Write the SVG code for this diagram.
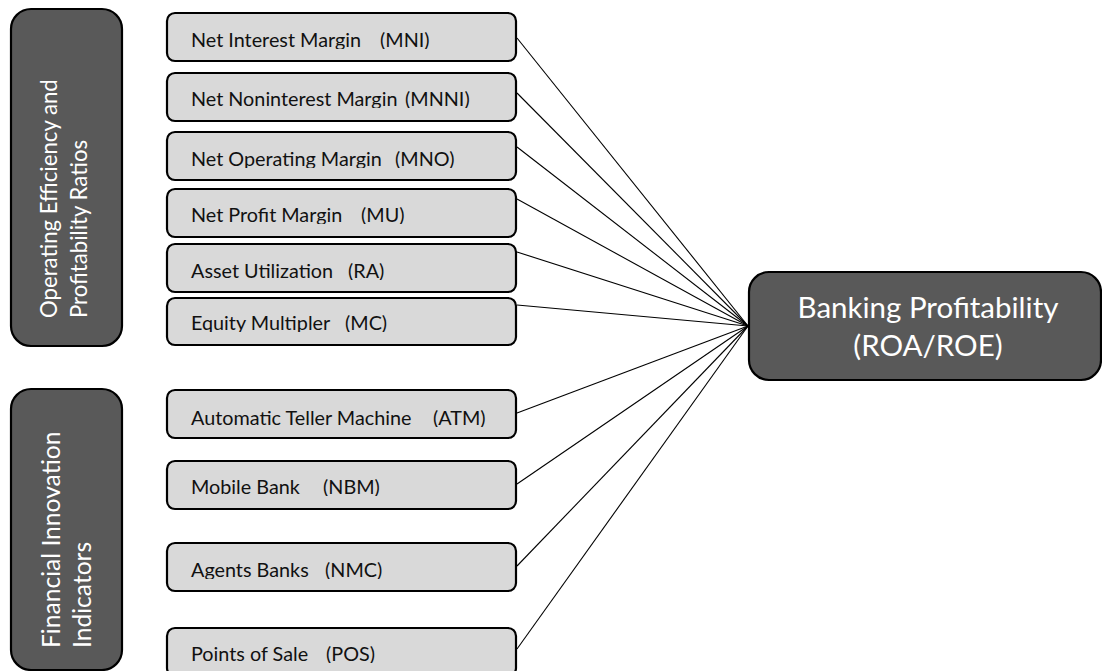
<svg xmlns="http://www.w3.org/2000/svg" width="1102" height="671" viewBox="0 0 1102 671">
  <style>
    .item rect { fill: #d9d9d9; stroke: #000; stroke-width: 2.2; }
    .item text { font-family: Lato, "Liberation Sans", sans-serif; font-size: 19.8px; fill: #111; white-space: pre; }
    .group rect { fill: #595959; stroke: #000; stroke-width: 2.2; }
    .group text { font-family: Lato, "Liberation Sans", sans-serif; fill: #fff; }
    .target rect { fill: #595959; stroke: #000; stroke-width: 2.2; }
    .target text { font-family: Lato, "Liberation Sans", sans-serif; font-size: 29.5px; fill: #fff; text-anchor: middle; }
    .links line { stroke: #000; stroke-width: 1.1; }
  </style>
  <defs>
    <!-- labels in the item boxes are cut just under their baseline -->
    <clipPath id="c1"><rect x="160" y="13" width="360" height="36"/></clipPath>
    <clipPath id="c2"><rect x="160" y="73" width="360" height="35"/></clipPath>
    <clipPath id="c3"><rect x="160" y="132" width="360" height="36"/></clipPath>
    <clipPath id="c4"><rect x="160" y="189" width="360" height="35"/></clipPath>
    <clipPath id="c5"><rect x="160" y="244" width="360" height="36"/></clipPath>
    <clipPath id="c6"><rect x="160" y="298" width="360" height="34"/></clipPath>
    <clipPath id="c7"><rect x="160" y="390" width="360" height="37"/></clipPath>
    <clipPath id="c8"><rect x="160" y="461" width="360" height="35"/></clipPath>
    <clipPath id="c9"><rect x="160" y="543" width="360" height="36"/></clipPath>
    <clipPath id="c10"><rect x="160" y="628" width="360" height="35"/></clipPath>
  </defs>

  <!-- connectors: every item box feeds the profitability node -->
  <g id="connectors" class="links">
    <line x1="517" y1="38" x2="748" y2="326"/>
    <line x1="517" y1="93" x2="748" y2="326"/>
    <line x1="517" y1="147" x2="748" y2="326"/>
    <line x1="517" y1="199" x2="748" y2="326"/>
    <line x1="517" y1="252" x2="748" y2="326"/>
    <line x1="517" y1="305" x2="748" y2="326"/>
    <line x1="517" y1="413" x2="748" y2="326"/>
    <line x1="517" y1="484" x2="748" y2="326"/>
    <line x1="517" y1="566" x2="748" y2="326"/>
    <line x1="517" y1="649" x2="748" y2="326"/>
  </g>

  <!-- category panels -->
  <g id="group-ratios" class="group">
    <rect x="11" y="9" width="111" height="337" rx="20"/>
    <text font-size="22.2" transform="translate(57 318) rotate(-90)">Operating Efficiency and</text>
    <text font-size="22.2" transform="translate(87 318) rotate(-90)">Profitability Ratios</text>
  </g>
  <g id="group-innovation" class="group">
    <rect x="11" y="389" width="111" height="281" rx="20"/>
    <text font-size="24.6" transform="translate(60 648) rotate(-90)">Financial Innovation</text>
    <text font-size="24.6" transform="translate(91 648) rotate(-90)">Indicators</text>
  </g>

  <!-- ratio items -->
  <g id="mni" class="item">
    <rect x="167" y="13" width="349" height="48" rx="8"/>
    <text clip-path="url(#c1)" y="47"><tspan x="191">Net Interest Margin</tspan><tspan x="380">(MNI)</tspan></text>
  </g>
  <g id="mnni" class="item">
    <rect x="167" y="73" width="349" height="48" rx="8"/>
    <text clip-path="url(#c2)" y="106"><tspan x="191">Net Noninterest Margin</tspan><tspan x="405">(MNNI)</tspan></text>
  </g>
  <g id="mno" class="item">
    <rect x="167" y="132" width="349" height="48" rx="8"/>
    <text clip-path="url(#c3)" y="166"><tspan x="191">Net Operating Margin</tspan><tspan x="395">(MNO)</tspan></text>
  </g>
  <g id="mu" class="item">
    <rect x="167" y="189" width="349" height="48" rx="8"/>
    <text clip-path="url(#c4)" y="222"><tspan x="191">Net Profit Margin</tspan><tspan x="361">(MU)</tspan></text>
  </g>
  <g id="ra" class="item">
    <rect x="167" y="244" width="349" height="48" rx="8"/>
    <text clip-path="url(#c5)" y="278"><tspan x="191">Asset Utilization</tspan><tspan x="348">(RA)</tspan></text>
  </g>
  <g id="mc" class="item">
    <rect x="167" y="298" width="349" height="47" rx="8"/>
    <text clip-path="url(#c6)" y="330"><tspan x="191">Equity Multipler</tspan><tspan x="345">(MC)</tspan></text>
  </g>

  <!-- innovation items -->
  <g id="atm" class="item">
    <rect x="167" y="390" width="349" height="48" rx="8"/>
    <text clip-path="url(#c7)" y="425"><tspan x="191">Automatic Teller Machine</tspan><tspan x="433">(ATM)</tspan></text>
  </g>
  <g id="nbm" class="item">
    <rect x="167" y="461" width="349" height="48" rx="8"/>
    <text clip-path="url(#c8)" y="494"><tspan x="191">Mobile Bank</tspan><tspan x="323">(NBM)</tspan></text>
  </g>
  <g id="nmc" class="item">
    <rect x="167" y="543" width="349" height="48" rx="8"/>
    <text clip-path="url(#c9)" y="577"><tspan x="191">Agents Banks</tspan><tspan x="325">(NMC)</tspan></text>
  </g>
  <g id="pos" class="item">
    <rect x="167" y="628" width="349" height="48" rx="8"/>
    <text clip-path="url(#c10)" y="661"><tspan x="191">Points of Sale</tspan><tspan x="326">(POS)</tspan></text>
  </g>

  <!-- outcome node -->
  <g id="profitability" class="target">
    <rect x="749" y="272" width="352" height="108" rx="20"/>
    <text x="928" y="318">Banking Profitability</text>
    <text x="928" y="356">(ROA/ROE)</text>
  </g>
</svg>
